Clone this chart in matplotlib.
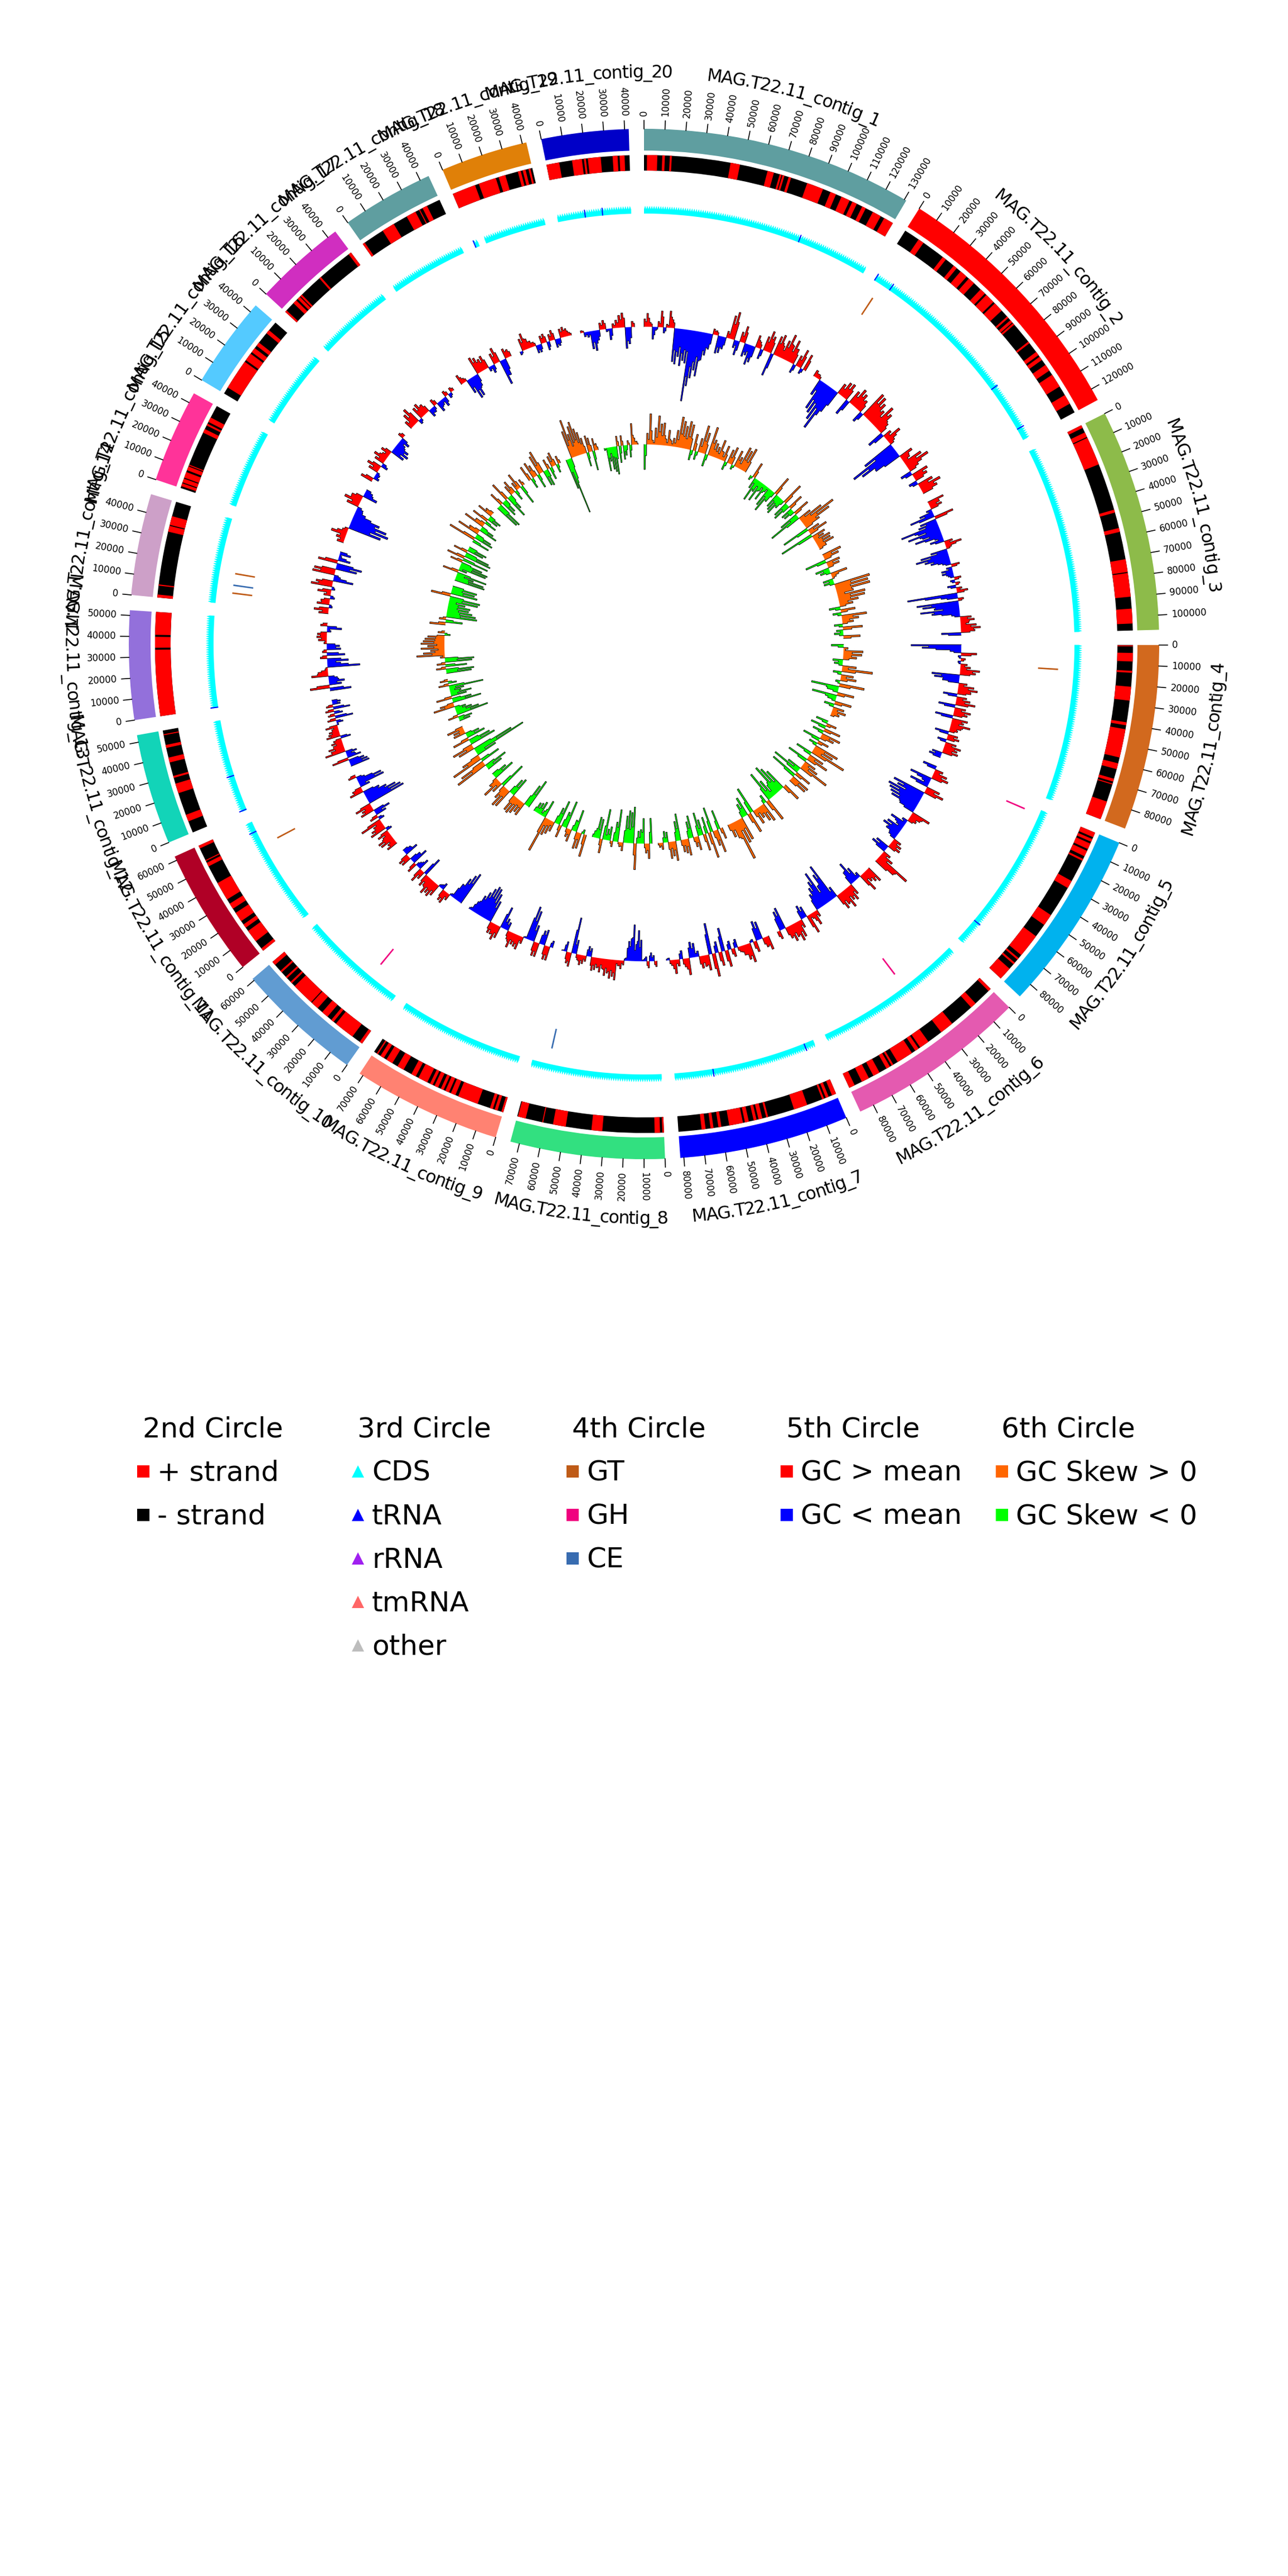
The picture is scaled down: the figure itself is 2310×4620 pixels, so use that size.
import numpy as np
import matplotlib
matplotlib.use("Agg")
import matplotlib.pyplot as plt
from matplotlib.lines import Line2D

# contigs, clockwise from the top
contig_names = ["MAG.T22.11_contig_%d" % i for i in range(1, 21)]
contig_len = [131000, 126000, 107000, 89400, 87600, 87000, 81700, 74400, 71800, 61000,
              62000, 53400, 52500, 49000, 45000, 44000, 44500, 44500, 42000, 42000]
contig_colors = ["#5F9EA0", "#FF0000", "#8DBB4A", "#D2691E", "#00B2EE", "#E45AB0", "#0000FF",
                 "#32E080", "#FF8272", "#619CD2", "#B00026", "#12D4B8", "#9370DB", "#CDA0C8",
                 "#FF3399", "#54CAFF", "#D02EC0", "#5F9EA0", "#E08008", "#0000C8"]

# 2nd circle: + strand stretches in kb, everything else is - strand
plus_strand = [
    [(1.5, 6.7), (9.2, 10.5), (13, 14), (43.7, 48.5), (62.7, 66), (69, 70), (70.5, 71.5), (73.7, 75), (83.5, 92),
     (96, 99), (102, 106.5), (108, 110.5), (113.5, 115.5), (119.5, 124), (126, 131)],
    [(8, 11), (23, 25), (30, 32), (34.5, 38.5), (40, 43.5), (48, 51), (52, 57), (58, 63), (67, 68), (69.5, 71),
     (71.5, 72.5), (83.5, 84.5), (90, 92), (93, 95), (98, 101.5), (104, 111), (116, 121)],
    [(0, 1.5), (4, 6.5), (7, 21.5), (45.5, 47), (55, 57), (71, 77.5), (78, 90), (96, 103.5)],
    [(0.2, 0.7), (4, 8.3), (13, 14), (21, 28), (39, 40.5), (42.5, 57), (60, 63), (68, 69.5), (70.5, 71), (80, 89.4)],
    [(0, 2.5), (3.5, 5), (6, 9), (10, 13), (14.5, 15.5), (27, 31), (47, 53), (60, 72), (74, 75), (77, 78), (81, 87.6)],
    [(0, 1.5), (10.5, 13.5), (26, 33), (41, 46), (47, 49), (51, 59.5), (62, 63), (64, 66), (70, 73.5), (76, 80), (84, 87)],
    [(0, 2.2), (4, 5.5), (6.5, 7.5), (15.5, 22.5), (36, 37), (39, 41), (42, 43.5), (46, 48), (49, 56), (60, 61.5),
     (64, 65.5), (68, 70)],
    [(0, 0.8), (2, 4.7), (31, 36.5), (49.5, 56), (61, 61.5), (70, 74)],
    [(0, 1), (3, 4.5), (5.5, 7), (13.5, 24), (25.5, 28), (29, 31), (32, 33.5), (35, 37), (38, 39.5), (41, 46), (47.5, 50),
     (54.5, 58), (61, 64.5), (66, 68), (69.5, 70.2)],
    [(0, 1.5), (6, 16.5), (18, 19.5), (22, 25.5), (28.5, 32.5), (33, 44.5), (46.5, 47.5), (50, 51), (54, 55), (59, 61)],
    [(0, 1.5), (6, 12.5), (14.5, 16.5), (18.5, 23.5), (26, 29), (31.5, 41), (50.5, 52.5), (53.5, 54), (60.5, 62)],
    [(6, 9.5), (21, 26), (29, 30), (37, 39.5), (44.5, 46), (51, 51.5)],
    [(0, 33.5), (34.5, 40), (41, 52.5)],
    [(0, 1.5), (6, 6.6), (33.5, 36.5), (37, 41.5)],
    [(1, 2.5), (3, 5), (5.5, 8.5), (9.5, 11.5), (12, 12.5), (30, 32), (34, 35), (36, 38.5)],
    [(3.5, 19), (20, 24), (25, 27.5), (29, 31), (37, 39)],
    [(0, 1), (6, 8), (9, 10.5), (11, 12), (24, 25), (43, 44.5)],
    [(0, 1.2), (12, 18.5), (26, 31), (33, 33.5), (35, 37.5)],
    [(0, 12), (14, 23), (24.5, 28), (34.5, 36), (37, 38.5), (40, 41)],
    [(0, 6.5), (13, 18), (19, 20), (21, 27.5), (33.5, 36), (37, 39.5)],
]

# 3rd circle: teeth counted per contig, tRNA positions as (contig index, kb)
cds_genes = [104, 100, 85, 71, 70, 69, 65, 59, 57, 48, 49, 42, 42, 39, 36, 35, 35, 35, 33, 33]
trna_marks = [(0, 90), (1, 0.3), (1, 10.5), (1, 92), (1, 119), (4, 73.7), (6, 5.6), (6, 59.6), (10, 56), (11, 0.5),
              (11, 21), (12, 0.3), (18, 0.2), (19, 15.8), (19, 25.7)]
cds_missing = [(18, 2.5, 6.5)]

# 4th circle: CAZy genes as (contig index, kb)
gt_marks = [(1, 5), (3, 14.5), (10, 47), (13, 18.4), (13, 6.8)]
gh_marks = [(4, 3), (5, 34), (9, 18)]
ce_marks = [(7, 65), (13, 11.5)]

# 5th circle: GC content minus mean per contig
gc_dev = [
    [14, 24, 8, -22, -6, 10, 29, -10, 6, 30, 15, -60, -64, -50, -66, -56, -60, -128, -100, -85, -70, -80, -50, -40, -28,
     10, 8, -32, -30, -22, 12, 42, 50, -14, -26, 18, 30, -24, -20, -36, -30, 22, 12, -18, 26, 38, 30, -42, 35, 40, 22,
     34, 48, 30, 42, 28, -16, 20, 34, -10, 30],
    [12, 8, -30, -55, -60, -70, -85, -45, 20, 28, 30, -30, 25, 35, 30, 22, -20, 50, 48, 40, 30, 45, 35, 20, -30, 15, 30,
     12, -60, -90, -75, -50, 25, 15, 35, 45, 20, -20, 30, 25, -15, 28, 40, 30],
    [30, 20, 22, -10, -25, -45, 35, -30, -35, -70, -40, -60, -35, -50, -15, -25, 15, 30, 10, -30, -50, -60, -45, -35,
     -15, 15, -10, -20, -20, -10, 12, -8, 8, -15, 10, 20, -90, -30, 10, -75, -65, -45, -70, -50, -15, 20, 25, 15, 28, 35,
     25, -35],
    [-90, -70, -20, 28, -5, 8, -5, 12, 18, 35, 28, -50, -45, -30, 15, 28, 35, 24, -25, 18, 25, 35, -30, 20, 30, 25, -32,
     28, 22, 35, 20, 15, -25, 18, 22, -16, 20, 30, 25, 28, -18, -22],
    [-25, 15, 25, 30, -40, -15, -35, 25, 35, -60, -50, -65, -60, -55, -50, -30, 35, 20, 15, -10, -30, -15, -30, -35, -25,
     -15, 15, 20, 22, -25, -30, 15, 25, 65, 40],
    [30, 25, 20, 35, -10, -25, -40, -25, 20, 28, 24, 35, 25, 30, -20, -70, -55, -35, -65, -50, -40, -30, 12, 25, 10, 35,
     -20, -25, 15, 30, 35, 25, 30, 22, -40, -35, 15],
    [25, 18, -32, -35, 20, -5, 35, 28, 18, 10, -15, 15, -15, 30, -42, 25, -20, 42, -56, 28, 20, 22, -10, -25, -28, 30,
     15, -15, 12, 25, 10, -4],
    [10, -10, -15, 12, -8, -3, -38, -55, -30, -65, -40, -35, -5, 8, 15, 10, 36, 30, 34, 25, 30, 18, 25, 18, 22, 24, -15,
     -18, 10, 15, 18, 10, -25, -65, 25, 20, -18, -2],
    [-12, 25, 25, -28, -25, 25, 25, -30, -55, -62, -3, 12, 25, 22, 20, 28, 15, -15, -20, -40, 22, 28, 20, 20, -40, -52,
     -60, -62, -55, -45, -35, -20, -5],
    [-62, -55, -45, -30, -5, 12, 22, 20, -12, -6, 22, 28, 25, 30, 18, 22, -35, 15, 25, -20, -10, 18, -30, -20, 18, 20,
     -25, -15],
    [20, 15, 26, 28, 15, 22, -10, 30, 25, 18, 40, -10, 15, -20, -30, 25, 20, 30, -70, -66, -58, -42, -30, 25, 18, -18,
     -48, -45, -15, 14],
    [-35, -33, -28, 30, -25, -15, -20, 37, 25, 28, 18, 20, 15, -18, 25, 20, 18, 12, 22, -3, -12, 15, -32, 12, -15, 15,
     -30, 12, -14, -15],
    [-38, 35, -22, -28, -16, 30, 18, 5, -58, -24, -38, 12, -32, 8, -25, -23, 5, 15, 18, 17, -7, -26, 12],
    [17, 26, -6, 22, 16, -8, 12, 24, -6, 38, 30, -36, -12, 40, 38, -38, -46, 35, -22, -5, -20],
    [12, 16, 28, 10, -60, -72, -66, -50, -20, -12, 22, 30, 20, -26, -14],
    [22, -10, -8, 18, 25, -12, 18, 24, 12, 18, -25, -30, -26, -14, -18, 10],
    [15, 25, 32, -8, 22, 25, 18, -14, -10, 12, -18, -10, -16, 10, -8, 8],
    [18, 8, -26, -40, -38, -22, 32, 28, 22, 25, -8, -14, 20, 28, -45, -30, 18, 14],
    [-6, 22, 30, 18, 12, 8, -14, -14, 14, 16, -15, 12, 18, -15, -13, 16, 18, 14, 6],
    [4, -8, -10, -32, -36, -18, 12, 16, -5, -20, 8, 14, 22, 26, -38, -30, 10],
]

# 6th circle: GC skew per contig
gc_skew = [
    [-45, 20, 55, 8, 30, 52, 38, 40, 12, 28, 10, 15, 30, 55, 48, 40, 50, 45, -18, 30, -15, 25, 50, 38, -22, 52, 30, 25,
     20, 35, 15, 28, -15, 25, 32, -8, 30, 20, 42, 38, 45],
    [-8, 28, -20, -42, -22, -38, -15, -30, -10, -36, -45, -22, 35, -26, -30, -34, -18, 40, -28, -32, 28, -22, -20, 30,
     -35, -60, 24, 45, 68, 55, 30, -50, 22, 35, -62, 25, 20, 30, 28, 32, 15],
    [35, 28, -38, 25, 22, -25, -18, 30, 8, -18, -18, 65, 60, 62, 30, 50, 48, 35, 24, -20, 26, -15, 45, 30, 20, -15, 35,
     -12, -16, 30],
    [-22, 8, 35, 33, 24, -18, -15, 25, 55, -15, 22, 28, -8, 45, -50, -20, 30, -45, -15, 30, -18, 20, 25, 15],
    [-22, 18, -28, 30, -20, 35, 25, -32, 20, -15, 45, 38, 65, -30, 28, 40, -38, 22, 30, 55, -26, -53, 30, -50, 35, 33],
    [33, -40, -50, -58, -22, -35, -55, 42, -15, 35, 30, 20, 28, -48, 38, -35, -25, 42, 45, 74, 30, 25],
    [20, -35, 42, 28, -45, 47, -30, 30, -28, -42, 25, 18, -40, -30, 30, 25, 22, -48, -35, 35, 26, 30, -18, -20, 12, 8],
    [-45, 27, 17, -45, -25, -22, 47, -65, -55, -58, -48, 15, 8, -58, -35, 10, -25, -20, -55, 25, -35, -38, -12],
    [40, -8, 28, 30, -40, -20, 22, 15, -50, -28, 22, -45, -30, 18, 25, 30, 65, -32, -10, -25, -20, -18],
    [-55, -42, 25, 22, 28, 32, 30, -35, -30, 35, 38, 25, -48, 20, 35, 18, -40, -28],
    [-30, -42, 60, 48, -36, 58, 35, -38, -99, -76, 30, 39, -48, -40, 30, -34, -25, 22, 20, 30],
    [-20, -25, 18, -58, -42, -30, -20, 38, 25, -52, -35, 28, -28, -38, -20, -26, -62, 18, -15, 14],
    [-45, -50, 17, -38, 15, -48, -52, 8, 50, 38, 25, 42, 30, 42, 38, 35, 30, -10, 12],
    [28, -30, 12, -55, -52, -45, -38, -40, -30, -52, -55, 35, -48, -42, -45],
    [-55, -52, -32, -55, 28, -15, -50, -52, -40, 22, -48, 32, -50, -45, 25, -30, -35],
    [-32, 50, -35, -30, 40, 20, -34, -25, 38, 18, -22, 30, -20, -24, 28, 15],
    [-45, -48, 25, -30, -25, 35, -42, -28, 18, 25, -18, 15, 30, -35, 12],
    [28, -18, 30, 22, -25, 35, 42, -28, -30, 18, -22, 20, 25, -15, 14],
    [-55, -102, -38, 50, 70, 42, 55, 62, 48, 40, 28, -25, 30, 25, -35, 22, 12],
    [-4, -42, -25, -40, -45, -50, 18, -30, 18, -25, -18, 8, -22, 38, 12, 6],
]

# DejaVu Sans advance widths (em) for the bent contig labels
char_w = {"M": .863, "A": .684, "G": .775, ".": .318, "T": .611, "_": .5, "c": .55, "o": .612, "n": .634,
          "t": .392, "i": .278, "g": .635}

# radii are in pixels of the square that holds the circle
gap = 1.7
deg_per_bp = (360 - gap * len(contig_len)) / sum(contig_len)
starts = np.cumsum([0] + [l * deg_per_bp + gap for l in contig_len[:-1]])


def pos(c, kb):
    return np.deg2rad(starts[c] + kb * 1000 * deg_per_bp)


fig = plt.figure(figsize=(7.7, 15.4), dpi=300)
ax = fig.add_axes([0, 0.5, 1, 0.5], projection="polar")
ax.set_theta_zero_location("N")
ax.set_theta_direction(-1)
ax.set_axis_off()


def arc(c, a, b, r0, r1, color):
    ta, tb = pos(c, a), pos(c, b)
    ax.bar((ta + tb) / 2, r1 - r0, width=tb - ta, bottom=r0, color=color, linewidth=0)


def track(values, base, up_color, down_color, shoulder):
    # each window: a spike at full height, then a lower shoulder
    for c, vals in enumerate(values):
        edges = np.linspace(pos(c, 0), pos(c, contig_len[c] / 1000), len(vals) + 1)
        i = 0
        while i < len(vals):
            j = i
            while j + 1 < len(vals) and (vals[j + 1] > 0) == (vals[i] > 0):
                j += 1
            t = [edges[i]]
            r = [base]
            for k in range(i, j + 1):
                mid = edges[k] + (edges[k + 1] - edges[k]) * 0.55
                t += [edges[k], mid, mid, edges[k + 1]]
                r += [base + vals[k], base + vals[k], base + vals[k] * shoulder, base + vals[k] * shoulder]
            t.append(edges[j + 1])
            r.append(base)
            # fill follows the baseline arc back, outline stays open there
            back = edges[i:j + 2][::-1]
            ax.fill(t + list(back), r + [base] * len(back), color=up_color if vals[i] > 0 else down_color, linewidth=0)
            ax.plot(t, r, color="k", lw=0.22)
            i = j + 1


def cds_band(c, count):
    edges = np.linspace(pos(c, 0), pos(c, contig_len[c] / 1000), count + 1)
    t = [edges[0]]
    r = [772]
    for k in range(count):
        t += [edges[k], (edges[k] + edges[k + 1]) / 2]
        r += [780, 786]
    t += [edges[-1], edges[-1]]
    r += [780, 772]
    t += list(edges[::-1])
    r += [772] * len(edges)
    ax.fill(t, r, color="#00FFFF", linewidth=0)


def marks(items, r0, r1, color, width_kb):
    for c, kb in items:
        arc(c, kb - width_kb / 2, kb + width_kb / 2, r0, r1, color)


def bent_label(name, mid):
    em = 29.2
    total = sum(char_w.get(ch, .636) for ch in name) * em
    flip = 90 < mid < 270
    r = 1040 if flip else 1016
    walked = 0
    for ch in name:
        w = char_w.get(ch, .636) * em
        off = np.rad2deg((walked + w / 2 - total / 2) / r)
        ang = mid - off if flip else mid + off
        ax.text(np.deg2rad(ang), r, ch, fontsize=7.6, ha="center", va="baseline", rotation_mode="anchor",
                rotation=180 - ang if flip else -ang)
        walked += w


for c, l in enumerate(contig_len):
    kb_end = l / 1000
    arc(c, 0, kb_end, 885, 924, contig_colors[c])
    arc(c, 0, kb_end, 849, 877, "black")
    for a, b in plus_strand[c]:
        arc(c, a, min(b, kb_end), 849, 877, "red")
    cds_band(c, cds_genes[c])

    for tick in range(0, l, 10000):
        th = pos(c, tick / 1000)
        deg = np.rad2deg(th)
        ax.plot([th, th], [924, 939], color="k", lw=0.4)
        if deg <= 180:
            ax.text(th, 947, str(tick), fontsize=4, ha="left", va="center", rotation=90 - deg, rotation_mode="anchor")
        else:
            ax.text(th, 947, str(tick), fontsize=4, ha="right", va="center", rotation=270 - deg, rotation_mode="anchor")
    bent_label(contig_names[c], starts[c] + kb_end * 500 * deg_per_bp)

for c, a, b in cds_missing:
    arc(c, a, b, 771, 787, "white")
marks(trna_marks, 772, 786, "#0000FF", 0.6)
marks(gt_marks, 708, 744, "#BF5B17", 0.9)
marks(gh_marks, 708, 744, "#F0027F", 0.9)
marks(ce_marks, 708, 744, "#386CB0", 0.9)

track(gc_dev, 569, "#FF0000", "#0000FF", 0.65)
track(gc_skew, 358, "#FF6600", "#00FF00", 0.45)

ax.set_xlim(0, 2 * np.pi)
ax.set_ylim(0, 1155)

# legends, one column per circle
legend_cols = [
    ("2nd Circle", 242, [("+ strand", "s", "#FF0000"), ("- strand", "s", "#000000")]),
    ("3rd Circle", 627, [("CDS", "^", "#00FFFF"), ("tRNA", "^", "#0000FF"), ("rRNA", "^", "#A020F0"),
                         ("tmRNA", "^", "#FF6666"), ("other", "^", "#BDBDBD")]),
    ("4th Circle", 1012, [("GT", "s", "#BF5B17"), ("GH", "s", "#F0027F"), ("CE", "s", "#386CB0")]),
    ("5th Circle", 1396, [("GC > mean", "s", "#FF0000"), ("GC < mean", "s", "#0000FF")]),
    ("6th Circle", 1782, [("GC Skew > 0", "s", "#FF6600"), ("GC Skew < 0", "s", "#00FF00")]),
]
for title, x_px, rows in legend_cols:
    handles = [Line2D([], [], linestyle="none", marker=m, color=col, markersize=5.3, markeredgewidth=0, label=lab)
               for lab, m, col in rows]
    leg = fig.legend(handles=handles, title=title, loc="upper left", bbox_to_anchor=(x_px / 2310, 1 - 2540 / 4620),
                     frameon=False, fontsize=12, title_fontsize=12, alignment="left", borderpad=0, borderaxespad=0,
                     handlelength=0.6, handletextpad=0.2, labelspacing=0.6)
    leg.get_title().set_position((14, 0))

fig.savefig("out.png", dpi=300)
